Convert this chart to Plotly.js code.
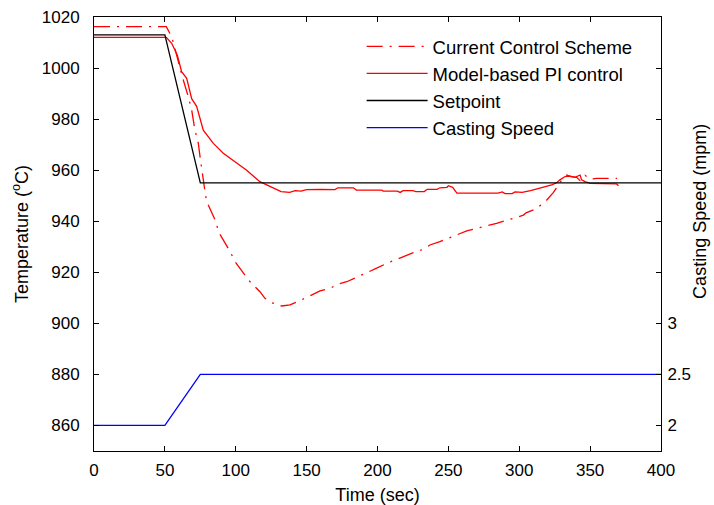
<!DOCTYPE html>
<html>
<head>
<meta charset="utf-8">
<script src="https://cdn.plot.ly/plotly-3.0.1.min.js"></script>
<style>html,body{margin:0;padding:0;background:#fff;}#chart{width:714px;height:505px;}</style>
</head>
<body>
<div id="chart"></div>
<script>
// Current Control Scheme (dash-dot red)
const currentTime = [0, 51, 54.8, 56, 59.5, 63, 66.5, 68.9, 71.2, 73.6, 74.8, 77.1, 78.3, 79.5, 83, 86, 87.8, 91.2, 93.6, 96, 99.5, 102.5, 105.3, 108.9, 112.4, 117.1, 120.6, 125.4, 132.4, 138.3, 145.3, 152.4, 159.4, 166.5, 172.3, 178.3, 185.3, 192.4, 199.4, 206.5, 212.3, 219.4, 225.3, 232.3, 237, 244, 251, 257, 263, 271, 278, 284, 291, 298, 302.9, 304.8, 311, 317, 319.4, 324, 327.6, 330, 333.5, 336.5, 340.5, 342.9, 346.4, 350, 354.6, 369];
const currentTemp = [1016.2, 1016.2, 1012.3, 1009.7, 1001.9, 995.3, 988.8, 983.6, 975.7, 970.5, 965.3, 955.5, 951.6, 947.7, 943.1, 939.8, 935.9, 932.7, 930.7, 928.1, 924.2, 922, 919.6, 917, 915, 912.4, 909.8, 908.1, 906.8, 907.2, 908.9, 910.7, 912.7, 913.7, 915.4, 916.3, 918, 919.6, 921.6, 923.5, 924.8, 926.5, 927.7, 929, 930.7, 932, 933.7, 934.9, 936.2, 937.2, 938.3, 939.2, 940.2, 941.5, 942.4, 943.3, 944.7, 947, 948.3, 951.2, 954.2, 956.2, 958.1, 957.5, 957.2, 955.9, 958, 956.5, 956.8, 956.8];

// Model-based PI control (solid red)
const piTime = [0, 51, 54.8, 58.8, 61.8, 65.4, 68.9, 72.4, 77.1, 84.2, 91.2, 100.6, 107.7, 117, 125, 132, 138, 142, 146, 150, 160, 170, 172, 183, 185, 203, 204, 214, 216, 218, 225, 227, 233, 235, 242, 244, 249, 250, 253, 256, 285, 288, 290, 295, 297, 302, 308, 314.6, 319.4, 322.9, 326.4, 328.7, 332.3, 335.8, 339.3, 342.9, 344, 346.4, 350, 368.7, 370];
const piTemp = [1012, 1012, 1009.7, 1005, 998.6, 996, 988, 985, 975.7, 970.5, 966.6, 962.7, 960, 955.5, 953.5, 951.6, 951.3, 952, 951.8, 952.4, 952.5, 952.4, 953.1, 953.1, 952.2, 952.2, 951.8, 951.8, 951.3, 952, 952, 951.6, 951.6, 952.5, 952.5, 953.1, 953.3, 953.9, 953.3, 951, 951, 951.5, 950.8, 950.8, 951.5, 951.3, 952, 952.9, 953.6, 954.2, 955.1, 956.2, 957.5, 957.7, 957.2, 958.1, 956.2, 955.5, 954.8, 954.6, 953.9];

// Setpoint (black)
const setpointTime = [0, 50, 75, 400];
const setpointTemp = [1013, 1013, 955, 955];

// Casting speed (blue, right axis)
const speedTime = [0, 50, 75, 400];
const speedValue = [2, 2, 2.5, 2.5];

const xTicks = [0, 50, 100, 150, 200, 250, 300, 350, 400];
const yTicks = [860, 880, 900, 920, 940, 960, 980, 1000, 1020];
const y2Ticks = [2, 2.5, 3];
const y2TickText = ['2', '2.5', '3'];

const FONT = '"Liberation Sans", Arial, Helvetica, sans-serif';

const traces = [
  {x: currentTime, y: currentTemp, name: 'Current Control Scheme', mode: 'lines',
   line: {color: '#ff0000', width: 1.3, dash: '16px,7px,2px,7px'}},
  {x: piTime, y: piTemp, name: 'Model-based PI control', mode: 'lines',
   line: {color: '#ff0000', width: 1.3}},
  {x: setpointTime, y: setpointTemp, name: 'Setpoint', mode: 'lines',
   line: {color: '#000000', width: 1.3}},
  {x: speedTime, y: speedValue, name: 'Casting Speed', mode: 'lines', yaxis: 'y2',
   line: {color: '#0000ff', width: 1.3}}
];

const axisCommon = {
  showline: true, linecolor: '#000', linewidth: 1,
  ticks: 'inside', ticklen: 5, tickcolor: '#000', tickwidth: 1,
  showgrid: false, zeroline: false,
  tickfont: {family: FONT, size: 17, color: '#000'}
};

const layout = {
  width: 714, height: 505,
  margin: {l: 94, r: 53, t: 17, b: 54, pad: 0},
  paper_bgcolor: '#fff', plot_bgcolor: '#fff',
  font: {family: FONT, size: 17, color: '#000'},
  showlegend: true,
  legend: {
    x: 0.472, y: 0.975, xanchor: 'left', yanchor: 'top',
    bgcolor: 'rgba(255,255,255,0)', borderwidth: 0,
    font: {family: FONT, size: 18.5, color: '#000'},
    itemwidth: 61, traceorder: 'normal'
  },
  xaxis: Object.assign({}, axisCommon, {
    range: [0, 400], tickvals: xTicks, mirror: 'ticks', ticklabelstandoff: 4,
    title: {text: 'Time (sec)', font: {family: FONT, size: 18, color: '#000'}, standoff: 8}
  }),
  yaxis: Object.assign({}, axisCommon, {
    range: [850, 1020], tickvals: yTicks, mirror: 'ticks', ticklabelstandoff: 10,
    title: {text: 'Temperature (<sup>o</sup>C)', font: {family: FONT, size: 18, color: '#000'}, standoff: 8}
  }),
  yaxis2: Object.assign({}, axisCommon, {
    range: [1.75, 6], tickvals: y2Ticks, ticktext: y2TickText,
    overlaying: 'y', side: 'right', ticklabelstandoff: 2
  }),
  annotations: [{
    text: 'Casting Speed (mpm)', textangle: -90, showarrow: false,
    xref: 'paper', yref: 'paper', x: 1.0688, y: 0.551,
    xanchor: 'center', yanchor: 'middle',
    font: {family: FONT, size: 18, color: '#000'}
  }]
};

Plotly.newPlot('chart', traces, layout, {displayModeBar: false, staticPlot: true});
</script>
</body>
</html>
